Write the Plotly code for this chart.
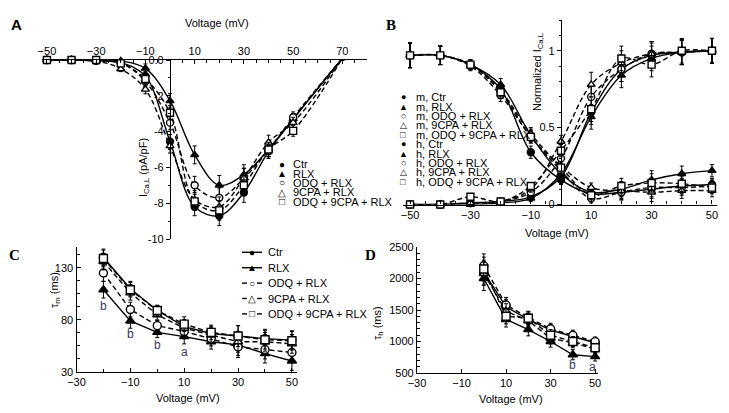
import plotly.graph_objects as go

# the page body has an 8px margin, so the figure is drawn 8px in from the window edge
OFF = 8
W, H = 729 - OFF, 413 - OFF
def fx(px): return (px - OFF) / W
def fy(py): return 1 - (py - OFF) / H

FONT = "Liberation Sans"
# ---------------- data ----------------
series_names = ["Ctr", "RLX", "ODQ + RLX", "9CPA + RLX", "ODQ + 9CPA + RLX"]

A_V = [-50, -40, -30, -20, -10, 0, 10, 20, 30, 40, 50, 70]
A_ctr = [0, 0, -0.05, -0.15, -0.9, -4.56, -8.2, -8.7, -7.4, -5.1, -3.3, 0.1]
A_rlx = [0, 0, 0, -0.05, -0.47, -2.28, -5.3, -7.0, -6.4, -5.0, -3.3, 0.1]
A_odq = [0, 0, -0.05, -0.15, -1.2, -3.5, -7.0, -7.7, -6.6, -5.0, -3.2, 0.1]
A_cpa = [0, 0, -0.05, -0.5, -1.64, -4.8, -7.8, -8.2, -6.6, -4.6, -3.5, 0.1]
A_both = [0, 0, 0, -0.19, -1.06, -2.95, -7.9, -8.4, -7.0, -5.0, -3.96, 0.1]
A_err = [0.05, 0.05, 0.1, 0.15, 0.25, 0.4, 0.5, 0.55, 0.55, 0.4, 0.3, 0.1]

B_V = [-50, -40, -30, -20, -10, 0, 10, 20, 30, 40, 50]
m_ctr = [0, 0, 0.01, 0.02, 0.05, 0.18, 0.6, 0.88, 0.97, 0.99, 1.0]
m_rlx = [0, 0, 0, 0.01, 0.04, 0.2, 0.57, 0.84, 0.95, 0.99, 1.0]
m_odq = [0, 0, 0.01, 0.02, 0.08, 0.3, 0.7, 0.88, 0.98, 0.99, 1.0]
m_cpa = [0, 0, 0.01, 0.02, 0.1, 0.41, 0.78, 0.92, 0.98, 0.99, 1.0]
m_both = [0, 0, 0.05, 0.02, 0.12, 0.35, 0.62, 0.95, 0.91, 1.0, 1.0]
h_ctr = [0.97, 0.97, 0.91, 0.75, 0.34, 0.16, 0.07, 0.08, 0.10, 0.12, 0.13]
h_rlx = [0.97, 0.97, 0.91, 0.78, 0.45, 0.20, 0.08, 0.10, 0.16, 0.20, 0.22]
h_odq = [0.97, 0.97, 0.90, 0.71, 0.44, 0.22, 0.04, 0.08, 0.11, 0.11, 0.12]
h_cpa = [0.97, 0.97, 0.91, 0.74, 0.46, 0.25, 0.11, 0.09, 0.08, 0.09, 0.09]
h_both = [0.97, 0.97, 0.91, 0.73, 0.44, 0.24, 0.06, 0.12, 0.14, 0.135, 0.11]
m_err = [0.01, 0.01, 0.01, 0.01, 0.02, 0.04, 0.08, 0.08, 0.08, 0.08, 0.08]
h_err = [0.08, 0.06, 0.03, 0.04, 0.04, 0.03, 0.03, 0.05, 0.06, 0.05, 0.04]

C_V = [-20, -10, 0, 10, 20, 30, 40, 50]
C_ctr = [140, 110, 89, 73.5, 67, 64.5, 62, 60.6]
C_rlx = [109, 79, 68, 64, 59, 56, 47.7, 40.6]
C_odq = [125, 90, 74.5, 69, 62, 54, 51.6, 48.7]
C_cpa = [136, 106, 85, 72, 65.5, 59, 59, 57]
C_both = [139, 109, 89, 76, 68, 64.5, 61, 60]
C_err = [8, 7, 5, 7, 7, 10, 9, 9]

D_V = [0, 10, 20, 30, 40, 50]
D_ctr = [2100, 1550, 1350, 1180, 1080, 980]
D_rlx = [2000, 1350, 1190, 1000, 790, 760]
D_odq = [2200, 1580, 1380, 1200, 1100, 1000]
D_cpa = [2080, 1480, 1330, 1050, 980, 880]
D_both = [2150, 1400, 1370, 1100, 1000, 900]
D_err = [190, 120, 100, 90, 80, 70]

C_sig = [(-20, 93, "b"), (-10, 66.5, "b"), (0, 56, "b"), (10, 49.5, "a"), (52.3, 37.7, "a")]
D_sig = [(40, 630, "b"), (49, 600, "a")]

# ---------------- styles ----------------
sym = ["circle", "triangle-up", "circle", "triangle-up", "square"]
fill = ["black", "black", "white", "white", "white"]
dash = ["solid", "solid", "5px,3px", "5px,3px", "5px,3px"]
glyph = ["●", "▲", "○", "△", "□"]

fig = go.Figure()

def add(x, y, err, i, xa, ya, spline, msize=7):
    fig.add_trace(go.Scatter(
        x=x, y=y, xaxis=xa, yaxis=ya, mode="lines+markers",
        line=dict(color="black", width=1.4, dash=dash[i],
                  shape="spline" if spline else "linear", smoothing=1.0),
        marker=dict(symbol=sym[i], size=msize, color=fill[i],
                    line=dict(color="black", width=1.4)),
        error_y=dict(type="data", array=err, color="black", thickness=1, width=2),
        cliponaxis=False, showlegend=False, name=series_names[i]))

for i, ys in enumerate([A_ctr, A_rlx, A_odq, A_cpa, A_both]):
    add(A_V, ys, A_err, i, "x", "y", True)
for i, ys in enumerate([m_ctr, m_rlx, m_odq, m_cpa, m_both]):
    add(B_V, ys, m_err, i, "x2", "y2", True, 7)
for i, ys in enumerate([h_ctr, h_rlx, h_odq, h_cpa, h_both]):
    add(B_V, ys, h_err, i, "x2", "y2", True, 7)
for i, ys in enumerate([C_ctr, C_rlx, C_odq, C_cpa, C_both]):
    add(C_V, ys, C_err, i, "x3", "y3", False, 8)
for i, ys in enumerate([D_ctr, D_rlx, D_odq, D_cpa, D_both]):
    add(D_V, ys, D_err, i, "x4", "y4", False, 8)

ax = dict(showline=True, linecolor="black", linewidth=1.2, showgrid=False, zeroline=False,
          automargin=False,
          tickfont=dict(family=FONT, size=11, color="black"), ticklen=4, tickcolor="black")

layout = dict(
    width=W, height=H, margin=dict(l=0, r=0, t=0, b=0, autoexpand=False),
    paper_bgcolor="white", plot_bgcolor="white",
    font=dict(family=FONT, size=11, color="black"),
    xaxis=dict(ax, domain=[fx(42), fx(367)], range=[-52, 80], anchor="y", side="top",
               tick0=-50, dtick=20, ticks="inside",
               minor=dict(dtick=5, ticks="inside", ticklen=3, tickcolor="black")),
    yaxis=dict(ax, domain=[fy(239), fy(60)], range=[-10, 0], anchor="free", position=fx(170),
               tickvals=[-10, -8, -6, -4, -2, 0], ticktext=["-10", "-8", "-6", "-4", "-2", "0.0"],
               ticks="outside", minor=dict(dtick=1, ticks="outside", ticklen=2, tickcolor="black")),
    xaxis2=dict(ax, domain=[fx(402.5), fx(716.5)], range=[-52.5, 51.5], anchor="y2",
                tick0=-50, dtick=20, ticks="inside",
                minor=dict(dtick=5, ticks="inside", ticklen=3, tickcolor="black")),
    yaxis2=dict(ax, domain=[fy(204.5), fy(20)], range=[0, 1.2], anchor="free", position=fx(561),
                tickvals=[0, 0.5, 1], ticktext=["0", "0.5", "1"], ticks="outside",
                minor=dict(dtick=0.1, ticks="outside", ticklen=2, tickcolor="black")),
    xaxis3=dict(ax, domain=[fx(76.5), fx(296.5)], range=[-30, 51.7], anchor="y3",
                tick0=-30, dtick=20, ticks="inside",
                minor=dict(dtick=10, ticks="inside", ticklen=3, tickcolor="black")),
    yaxis3=dict(ax, domain=[fy(372), fy(247)], range=[30, 150], anchor="x3",
                tickvals=[30, 80, 130], ticks="inside",
                minor=dict(dtick=12.5, tick0=30, ticks="inside", ticklen=3, tickcolor="black")),
    xaxis4=dict(ax, domain=[fx(417), fx(598)], range=[-30, 51.3], anchor="y4",
                tick0=-30, dtick=20, ticks="inside"),
    yaxis4=dict(ax, domain=[fy(373), fy(247)], range=[500, 2500], anchor="x4",
                dtick=500, ticks="inside",
                minor=dict(dtick=100, ticks="inside", ticklen=3, tickcolor="black")),
)
fig.update_layout(**layout)

ann = []
def T(px, py, text, size=11, angle=0, xanchor="center", family=FONT, bold=False, color="black"):
    if bold:
        text = "<b>" + text + "</b>"
    ann.append(dict(x=fx(px), y=fy(py), xref="paper", yref="paper", text=text,
                    showarrow=False, textangle=angle, xanchor=xanchor, yanchor="middle",
                    font=dict(family=family, size=size, color=color)))

# panel letters
T(16, 25, "A", 15, bold=True)
T(391, 25, "B", 15, family="Liberation Serif", bold=True)
T(15, 255, "C", 15, family="Liberation Serif", bold=True)
T(370, 255, "D", 15, family="Liberation Serif", bold=True)

# axis titles
T(217, 23, "Voltage (mV)")
T(144, 168, "I<sub>Ca,L</sub> (pA/pF)", angle=-90)
T(557, 233, "Voltage (mV)")
T(538, 72, "Normalized I<sub>Ca,L</sub>", angle=-90)
T(188, 398, "Voltage (mV)")
T(55, 290, "τ<sub>m</sub> (ms)", angle=-90)
T(511, 399, "Voltage (mV)")
T(378, 323, "τ<sub>h</sub> (ms)", angle=-90)

# legend A
for k in range(5):
    y = 164 + 9.5 * k
    T(282, y, glyph[k], 10)
    T(291, y, series_names[k], 11, xanchor="left")

# legend B
for k in range(10):
    y = 97.3 + 9.4 * k
    i = k % 5
    lab = ("m, " if k < 5 else "h, ") + series_names[i]
    T(403, y, glyph[i], 9)
    T(414, y, lab, 11, xanchor="left")

# legend C
shapes = []
for k in range(5):
    y = 252.3 + 15.4 * k
    if k < 2:
        shapes.append(dict(type="line", xref="paper", yref="paper", x0=fx(242), x1=fx(262),
                           y0=fy(y), y1=fy(y), line=dict(color="black", width=1.4)))
    else:
        for a, b in [(242, 247), (257, 262)]:
            shapes.append(dict(type="line", xref="paper", yref="paper", x0=fx(a), x1=fx(b),
                               y0=fy(y), y1=fy(y), line=dict(color="black", width=1.4)))
    T(252, y, glyph[k], 10)
    T(266, y, series_names[k], 11, xanchor="left")

# significance letters
for (xv, yv, s) in C_sig:
    ann.append(dict(x=xv, y=yv, xref="x3", yref="y3", text=s, showarrow=False,
                    font=dict(family=FONT, size=12, color="#3a3a5a")))
for (xv, yv, s) in D_sig:
    ann.append(dict(x=xv, y=yv, xref="x4", yref="y4", text=s, showarrow=False,
                    font=dict(family=FONT, size=12, color="#3a3a5a")))

fig.update_layout(annotations=ann, shapes=shapes)
fig.write_html("out.html")
